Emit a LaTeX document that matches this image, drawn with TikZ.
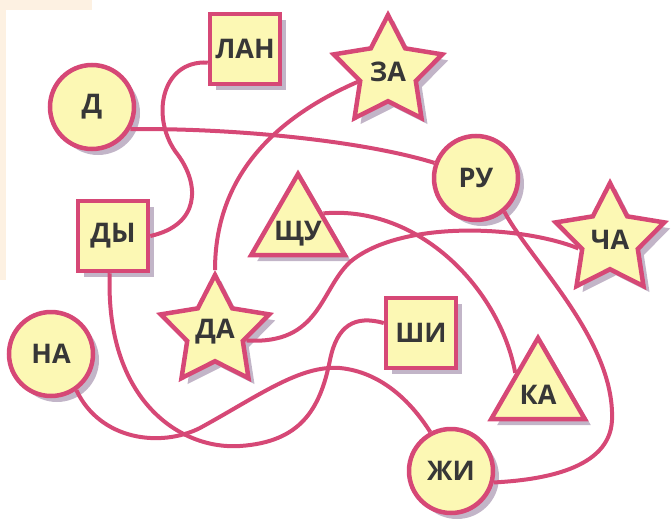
\documentclass[tikz,border=0pt]{standalone}
\usepackage{fontspec}
\setmainfont{Open Sans}
\usetikzlibrary{shapes.geometric,shadows}
\definecolor{roseline}{RGB}{214,72,118}
\definecolor{lemonfill}{RGB}{252,248,180}
\definecolor{slate}{RGB}{55,55,55}
\definecolor{peach}{RGB}{253,241,226}
\definecolor{plum}{RGB}{120,92,132}
\def\lowword#1{\smash{\makebox[0pt]{\raisebox{-12pt}{#1}}}}
\tikzset{
	syl/.style={draw=roseline, fill=lemonfill, line width=4.5pt, text=slate, inner sep=0pt,
		font=\fontsize{27}{29}\selectfont\bfseries,
		drop shadow={shadow xshift=6pt, shadow yshift=-6pt, fill=plum, opacity=0.45}},
	ball/.style={syl, circle, minimum size=84pt},
	box/.style={syl, rectangle, minimum size=70pt},
	tri/.style={syl, regular polygon, regular polygon sides=3, minimum size=108pt},
	starry/.style={syl, star, star points=5, star point ratio=1.95, minimum size=114pt},
	link/.style={draw=roseline, line width=4pt},
}

\begin{document}
\begin{tikzpicture}[x=1pt, y=-1pt]
			%%%%% START %%%%%
			\useasboundingbox (0,0) rectangle (671,524);
			\fill[peach] (0,0) rectangle (92,10);
			\fill[peach] (0,10) rectangle (6,280);
			
			\node[box] (lan) at (245,49) {ЛАН};
			\node[ball] (d) at (92,107) {Д};
			\node[box] (dy) at (113,236) {ДЫ};
			\node[starry] (za) at (388,72) {ЗА};
			\node[ball] (ru) at (476,178) {РУ};
			\node[tri] (shu) at (298,228) {\lowword{ЩУ}};
			\node[starry] (cha) at (610,240) {ЧА};
			\node[starry] (da) at (215,332) {ДА};
			\node[ball] (na) at (51,354) {НА};
			\node[box] (shi) at (421,333) {ШИ};
			\node[tri] (ka) at (538,392) {\lowword{КА}};
			\node[ball] (zhi) at (451,471) {ЖИ};
			
			\draw[link] (lan.200) .. controls (160,60) and (150,120) .. (178,155)
				.. controls (200,185) and (200,225) .. (dy.east);
			\draw[link] (d.-30) .. controls (230,128) and (360,140) .. (ru.160);
			\draw[link] (za.198) .. controls (270,120) and (215,180) .. (da.north);
			\draw[link] (shu.30) .. controls (420,205) and (500,290) .. (ka.140);
			\draw[link] (da.-15) .. controls (320,345) and (320,290) .. (350,262)
				.. controls (400,220) and (520,225) .. (cha.195);
			\draw[link] (ru.-50) .. controls (530,260) and (615,340) .. (612,420)
				.. controls (610,470) and (540,480) .. (zhi.-15);
			\draw[link] (dy.265) .. controls (105,400) and (180,450) .. (240,446)
				.. controls (300,442) and (320,410) .. (330,360)
				.. controls (337,325) and (355,315) .. (shi.165);
			\draw[link] (na.-55) .. controls (100,440) and (160,448) .. (200,428)
				.. controls (260,395) and (300,365) .. (340,368)
				.. controls (380,372) and (410,400) .. (zhi.118);
			%%%%% END %%%%%
\end{tikzpicture}
\end{document}
